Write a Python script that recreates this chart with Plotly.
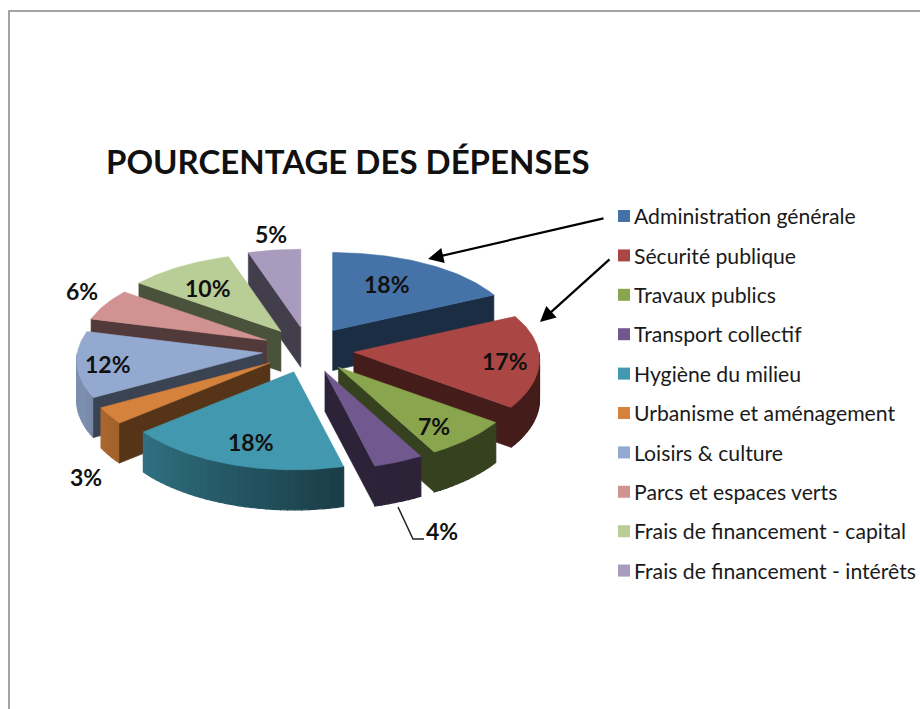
import math
import plotly.graph_objects as go

categories = ["Administration générale", "Sécurité publique", "Travaux publics",
              "Transport collectif", "Hygiène du milieu", "Urbanisme et aménagement",
              "Loisirs & culture", "Parcs et espaces verts",
              "Frais de financement - capital", "Frais de financement - intérêts"]
values = [18, 17, 7, 4, 18, 3, 12, 6, 10, 5]
colors = ["#4572A7", "#AA4643", "#89A54E", "#71588F", "#4198AF",
          "#D5823C", "#93A9CF", "#D19392", "#B9CD96", "#A99BBD"]
title_text = "POURCENTAGE DES DÉPENSES"

# geometry of the projected, exploded pie (pixels of the 920x709 page)
CX, CY = 308, 350
EXPLODE_X, EXPLODE_Y = 46, 23
DEPTH = 40
label_xy = [(387, 284), (505, 361), (434, 426), (442, 531), (251, 442),
            (86, 477), (108, 364), (82, 291), (208, 288), (271, 234)]


def rgb(h):
    return [int(h[i:i + 2], 16) for i in (1, 3, 5)]


def shade(h, f):
    return "rgb({},{},{})".format(*[min(255, int(c * f)) for c in rgb(h)])


def rim(ax, ay, deg):
    t = math.radians(deg)
    c, s = math.cos(t), math.sin(t)
    return ax + (185 - 16 * c) * s, ay - (88 - 10 * c) * c


def wall_factor(deg):
    u = max(0.0, min(1.0, (deg - 165) / 85))
    return 0.40 + 0.45 * u


fig = go.Figure()


def poly(xs, ys, color, lw=0.6):
    fig.add_trace(go.Scatter(x=xs + xs[:1], y=ys + ys[:1], mode="lines", fill="toself",
                             fillcolor=color, line=dict(color=color, width=lw),
                             hoverinfo="skip", showlegend=False))


total = sum(values)
slices = []
cum = 0
for name, v, col in zip(categories, values, colors):
    a0 = cum / total * 360
    cum += v
    a1 = cum / total * 360
    slices.append((a0, a1, col))

for a0, a1, col in sorted(slices, key=lambda s: -math.cos(math.radians((s[0] + s[1]) / 2))):
    mid = math.radians((a0 + a1) / 2)
    ax = CX + EXPLODE_X * math.sin(mid)
    ay = CY - EXPLODE_Y * math.cos(mid)
    # outer wall in small strips for the gradient, each overlapping the next
    lo, hi = max(a0, 90), min(a1, 270)
    if hi > lo:
        n = max(1, int((hi - lo) / 2))
        for i in range(n):
            d0 = lo + (hi - lo) * i / n
            d1 = lo + (hi - lo) * (i + 1) / n
            x0, y0 = rim(ax, ay, d0)
            x1, y1 = rim(ax, ay, d1)
            poly([x0, x1, x1, x0], [y0, y1, y1 + DEPTH, y0 + DEPTH],
                 shade(col, wall_factor((d0 + d1) / 2)), lw=1.2)
    # radial walls
    if a0 > 180:
        px, py = rim(ax, ay, a0)
        poly([ax, px, px, ax], [ay, py, py + DEPTH, ay + DEPTH], shade(col, 0.40))
    if a1 < 180:
        px, py = rim(ax, ay, a1)
        poly([ax, px, px, ax], [ay, py, py + DEPTH, ay + DEPTH], shade(col, 0.40))
    # top face
    n = max(2, int(a1 - a0))
    pts = [rim(ax, ay, a0 + (a1 - a0) * i / n) for i in range(n + 1)]
    poly([ax] + [p[0] for p in pts], [ay] + [p[1] for p in pts], col)

# legend: squares and their labels
leg_y = [216 + 39.4 * i for i in range(len(categories))]
fig.add_trace(go.Scatter(x=[624] * len(categories), y=leg_y, mode="markers",
                         marker=dict(symbol="square", size=12, color=colors),
                         hoverinfo="skip", showlegend=False, cliponaxis=False))
fig.add_trace(go.Scatter(x=[634] * len(categories), y=[y + 3 for y in leg_y], mode="text",
                         text=categories, textposition="middle right",
                         textfont=dict(family="Lato", size=21.2, color="#1a1a1a"),
                         hoverinfo="skip", showlegend=False, cliponaxis=False))

# leader line of the 4% label
fig.add_trace(go.Scatter(x=[398, 413, 424], y=[507, 539, 539], mode="lines",
                         line=dict(color="#222222", width=1.5),
                         hoverinfo="skip", showlegend=False))

annotations = [dict(x=x, y=y, xref="x", yref="y", text=f"{v}%", showarrow=False,
                    font=dict(family="Lato", size=23, color="#111111", weight="bold"))
               for (x, y), v in zip(label_xy, values)]
for (tx, ty, fx, fy) in [(428, 259, 605, 218), (540, 322, 611, 258)]:
    annotations.append(dict(x=tx, y=ty, ax=fx, ay=fy, xref="x", yref="y", axref="x", ayref="y",
                            text="", showarrow=True, arrowhead=2, arrowsize=1.4, arrowwidth=2.2,
                            arrowcolor="black"))

fig.update_layout(
    width=920, height=709, margin=dict(l=0, r=0, t=0, b=0),
    paper_bgcolor="white", plot_bgcolor="white", showlegend=False,
    xaxis=dict(range=[0, 920], visible=False, fixedrange=True),
    yaxis=dict(range=[709, 0], visible=False, fixedrange=True),
    title=dict(text=title_text, x=106 / 920, xanchor="left", y=1 - 162 / 709, yanchor="middle",
               font=dict(family="Lato", size=33, color="#111111", weight="bold")),
    shapes=[dict(type="rect", xref="x", yref="y", x0=9, y0=11, x1=930, y1=730,
                 line=dict(color="#858585", width=1.5), layer="below")],
    annotations=annotations,
)
fig.write_html("out.html", config=dict(displayModeBar=False),
               post_script="document.body.style.margin='0';document.documentElement.style.overflow='hidden';")
